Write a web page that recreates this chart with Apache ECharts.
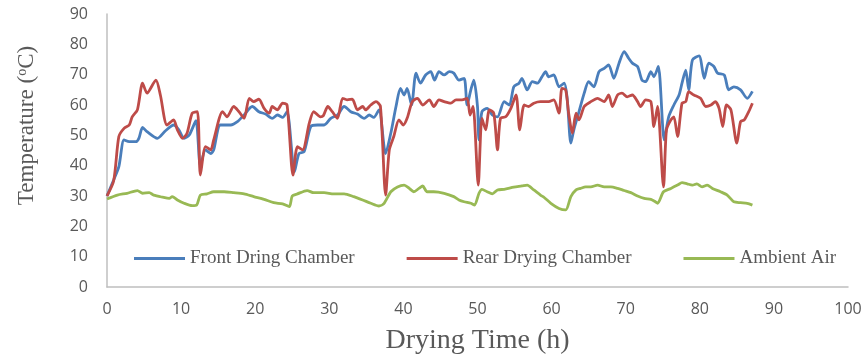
<!DOCTYPE html>
<html>
<head>
<meta charset="utf-8">
<script src="https://cdn.jsdelivr.net/npm/echarts@6/dist/echarts.min.js"></script>
<style>
  html, body { margin: 0; padding: 0; background: #fff; }
  #chart { width: 867px; height: 358px; }
</style>
</head>
<body>
<div id="chart"></div>
<script>
// Drying temperatures: hours since start and temperature in °C
const frontHours = [0, 0.9, 1.6, 2.3, 3.0, 3.9, 4.3, 4.8, 5.4, 6.8, 7.9, 9.0, 9.7, 10.4, 11.1, 12.0, 12.6, 13.3, 14.0, 14.4, 15.3, 16.7, 17.6, 18.5, 19.6, 20.5, 21.4, 22.3, 23.0, 23.7, 24.3, 25.3, 25.9, 26.6, 27.5, 28.4, 29.3, 30.2, 31.1, 32.0, 32.9, 33.8, 34.7, 35.4, 36.0, 36.7, 37.6, 38.3, 39.0, 39.6, 40.1, 40.5, 41.1, 41.7, 42.3, 43.0, 43.7, 44.2, 44.8, 45.5, 46.2, 46.8, 47.5, 48.2, 48.6, 49.1, 49.5, 50.0, 50.2, 50.6, 51.3, 52.0, 52.7, 53.6, 54.3, 54.9, 55.6, 56.0, 56.7, 57.4, 58.1, 58.7, 59.2, 59.6, 60.3, 61.0, 61.7, 62.1, 62.6, 63.0, 63.7, 64.4, 65.0, 65.7, 66.4, 67.1, 67.7, 68.4, 69.1, 69.8, 70.4, 70.9, 71.6, 72.2, 72.7, 73.4, 73.8, 74.4, 75.2, 75.8, 76.5, 77.2, 77.6, 78.1, 78.5, 79.0, 79.9, 80.6, 81.2, 81.9, 82.4, 83.3, 83.9, 84.6, 85.5, 86.4, 87.1];
const frontTemp = [30, 35.3, 39.7, 48.5, 47.9, 47.9, 49, 52.6, 51.2, 49, 51.5, 53.4, 51.8, 49, 50.1, 54.8, 40, 45.2, 44, 45.2, 53.4, 53.4, 54.5, 56.7, 59.5, 57.8, 57, 55.6, 56.7, 55.9, 57.8, 38, 44, 44.6, 52.9, 53.4, 53.4, 55.6, 56.7, 59.5, 57.8, 57, 55.6, 56.7, 55.9, 58.4, 44, 50.7, 59.5, 65.5, 63.3, 65.5, 60, 70.5, 67.2, 69.9, 71, 68.2, 71, 69.9, 71, 70.5, 68.2, 68.8, 60, 65, 68.2, 59.5, 48.5, 57.8, 58.9, 56.7, 56.1, 61.1, 60, 66, 67.2, 68.8, 65, 67.7, 67.2, 69.3, 71, 69.3, 69.9, 66, 67.2, 62.2, 47.4, 51.8, 57.8, 63.9, 67.7, 66, 71, 72.1, 73.2, 68.8, 73.8, 77.6, 75.4, 73.8, 72.7, 68.2, 67.7, 71, 69.3, 72.7, 48.5, 56.1, 60, 63.3, 67.2, 71.5, 65, 74.8, 76.2, 68.8, 73.8, 72.7, 70.5, 69.9, 65, 66, 65, 62.2, 64.5];

const rearHours = [0, 0.9, 1.6, 2.3, 3.0, 3.4, 4.1, 4.8, 5.4, 6.6, 7.2, 8.1, 9.0, 9.5, 10.2, 10.8, 11.5, 12.2, 12.6, 13.3, 14.0, 14.4, 15.6, 16.2, 17.1, 17.8, 18.5, 19.2, 19.8, 20.5, 21.2, 21.9, 22.3, 23.0, 23.7, 24.3, 25.1, 25.7, 26.4, 27.3, 27.9, 28.8, 29.2, 29.8, 30.4, 31.1, 31.8, 32.4, 33.1, 33.8, 34.5, 34.9, 35.6, 36.3, 36.9, 37.6, 38.1, 38.7, 39.4, 40.0, 40.5, 41.2, 41.9, 42.6, 43.5, 44.1, 44.8, 45.5, 46.4, 47.1, 47.9, 48.6, 49.0, 49.4, 50.1, 50.6, 51.1, 51.6, 52.2, 52.7, 53.1, 53.8, 54.5, 55.2, 55.7, 56.3, 56.9, 57.6, 58.5, 59.6, 60.3, 61.0, 61.4, 61.9, 62.3, 62.8, 63.3, 63.7, 64.4, 65.3, 66.2, 67.1, 67.7, 68.2, 68.9, 69.5, 70.2, 70.9, 71.6, 72.0, 72.7, 73.4, 73.8, 74.3, 75.1, 75.5, 76.1, 76.5, 77.0, 77.6, 78.1, 78.5, 79.2, 80.1, 80.8, 81.5, 82.1, 82.6, 83.1, 83.6, 84.2, 85.0, 85.5, 86.0, 86.6, 87.1];
const rearTemp = [30, 35, 49.6, 52.3, 53.4, 56.1, 58.4, 67.2, 63.9, 68.2, 63.3, 53.4, 55.1, 51.8, 49, 50.7, 57.3, 57.8, 36.9, 46.3, 45.2, 48.5, 57.8, 56.1, 59.5, 57.8, 55.6, 62.2, 61.1, 61.9, 58.9, 57.3, 59.5, 58.4, 60.6, 60, 36.9, 46.3, 45.2, 54, 57.8, 56.1, 56.5, 59.5, 57.8, 55.6, 62.2, 61.7, 61.9, 58.4, 59.5, 58.4, 60, 61.1, 59.5, 30.3, 45.2, 49.6, 55.1, 53.4, 55.6, 61.1, 62.2, 60, 61.7, 59.5, 61.7, 61.1, 60.6, 61.7, 61.7, 62.2, 56.7, 59.5, 33.6, 55.6, 51.8, 58.4, 57.3, 45.2, 55.6, 56.1, 58.9, 63.3, 51.8, 60, 59.5, 60.6, 61.1, 61.1, 61.7, 57.3, 65.5, 65, 57.3, 50.7, 57.3, 55.1, 59.5, 61.1, 62.2, 61.1, 63.3, 59.5, 63.3, 63.9, 62.7, 63.3, 61.1, 59.5, 61.7, 61.1, 52.9, 59.5, 33, 51.8, 55.1, 56.1, 49.6, 60.6, 61.1, 64.4, 63.3, 62.2, 59.5, 60, 61.1, 58.9, 52.9, 60, 58.4, 47.4, 54.5, 55.1, 57.8, 60.6];

const ambientHours = [0, 1.4, 2.7, 4.1, 4.8, 5.7, 6.3, 7.5, 8.4, 8.8, 9.5, 10.4, 11.5, 12.1, 12.6, 13.5, 14.4, 15.8, 17.1, 18.5, 19.8, 21.2, 22.5, 23.7, 24.6, 25.0, 25.7, 27.0, 27.9, 29.3, 30.6, 32.0, 33.3, 34.5, 35.6, 36.7, 37.4, 38.3, 39.2, 40.1, 40.8, 41.4, 42.1, 42.6, 43.2, 44.1, 45.5, 46.8, 47.5, 48.2, 49.1, 49.6, 50.2, 50.6, 51.3, 52.0, 52.7, 53.6, 54.9, 56.0, 56.7, 57.6, 58.5, 59.0, 59.9, 61.0, 61.9, 62.6, 63.3, 63.9, 64.6, 65.3, 66.2, 67.1, 68.0, 68.9, 69.8, 70.7, 71.6, 72.5, 73.4, 74.0, 74.3, 75.1, 76.1, 77.0, 77.6, 78.3, 79.0, 79.6, 80.3, 81.0, 81.7, 82.8, 83.7, 84.6, 85.5, 86.4, 87.1];
const ambientTemp = [29, 30.3, 30.9, 31.8, 30.9, 31.1, 30.3, 29.6, 29.2, 29.8, 28.7, 27.6, 26.8, 27, 30.3, 30.7, 31.4, 31.4, 31.1, 30.7, 29.8, 28.9, 27.8, 27.4, 26.5, 30, 30.7, 31.8, 31.1, 31.1, 30.7, 30.7, 29.8, 28.7, 27.6, 26.7, 27.6, 31.4, 33, 33.6, 32.5, 31.4, 32.5, 33.3, 31.4, 31.4, 30.9, 29.8, 28.7, 28.1, 27.6, 27, 30.9, 32.2, 31.4, 30.7, 32, 32.2, 32.9, 33.3, 33.6, 32, 30.3, 29.5, 27.6, 25.9, 25.4, 29.8, 32, 32.5, 33, 33, 33.6, 33, 33, 32.5, 31.8, 31.1, 30, 29.2, 28.9, 28.1, 27.6, 31.4, 32.5, 33.6, 34.4, 34, 33.6, 34, 33, 33.6, 32.5, 31.4, 30.3, 28.1, 27.8, 27.6, 27];

const seriesNames = ['Front Dring Chamber', 'Rear Drying Chamber', 'Ambient Air'];
const seriesColors = ['#4a7ebb', '#be4b48', '#98b954'];

const pairs = (xs, ys) => xs.map((x, i) => [x, ys[i]]);
const serif = '"Liberation Serif", "Times New Roman", serif';
const sans = '"Open Sans", "Noto Sans", sans-serif';

const chart = echarts.init(document.getElementById('chart'));

const makeLine = (name, color, data) => ({
  name,
  type: 'line',
  data,
  showSymbol: false,
  smooth: 0.25,
  lineStyle: { color, width: 2.8 },
  itemStyle: { color },
  emphasis: { disabled: true },
  animation: false
});

chart.setOption({
  animation: false,
  grid: { left: 107, right: 19, top: 14, bottom: 71, containLabel: false, outerBoundsMode: 'none' },
  legend: {
    data: seriesNames,
    left: 129,
    top: 244,
    icon: 'rect',
    itemWidth: 51,
    itemHeight: 3,
    itemGap: 52,
    textStyle: { fontFamily: serif, fontSize: 19, color: '#595959' }
  },
  xAxis: {
    type: 'value',
    min: 0,
    max: 100,
    interval: 10,
    name: 'Drying Time (h)',
    nameLocation: 'middle',
    nameGap: 40,
    nameTextStyle: { fontFamily: serif, fontSize: 28, color: '#595959' },
    axisLine: { lineStyle: { color: '#bfbfbf', width: 1.5 } },
    axisTick: { show: false },
    splitLine: { show: false },
    axisLabel: { fontFamily: sans, fontSize: 16, color: '#595959', margin: 14 }
  },
  yAxis: {
    type: 'value',
    min: 0,
    max: 90,
    interval: 10,
    name: 'Temperature ({sup|o}C)',
    nameLocation: 'middle',
    nameGap: 68,
    nameTextStyle: {
      fontFamily: serif,
      fontSize: 23,
      color: '#595959',
      padding: [0, 0, 0, 50],
      rich: {
        sup: { fontFamily: serif, fontSize: 14, color: '#595959', verticalAlign: 'top', padding: [0, 0, 10, 0] }
      }
    },
    axisLine: { show: true, lineStyle: { color: '#bfbfbf', width: 1.5 } },
    axisTick: { show: false },
    splitLine: { show: false },
    axisLabel: { fontFamily: sans, fontSize: 16, color: '#595959', margin: 19 }
  },
  series: [
    makeLine(seriesNames[0], seriesColors[0], pairs(frontHours, frontTemp)),
    makeLine(seriesNames[1], seriesColors[1], pairs(rearHours, rearTemp)),
    makeLine(seriesNames[2], seriesColors[2], pairs(ambientHours, ambientTemp))
  ]
});
</script>
</body>
</html>
